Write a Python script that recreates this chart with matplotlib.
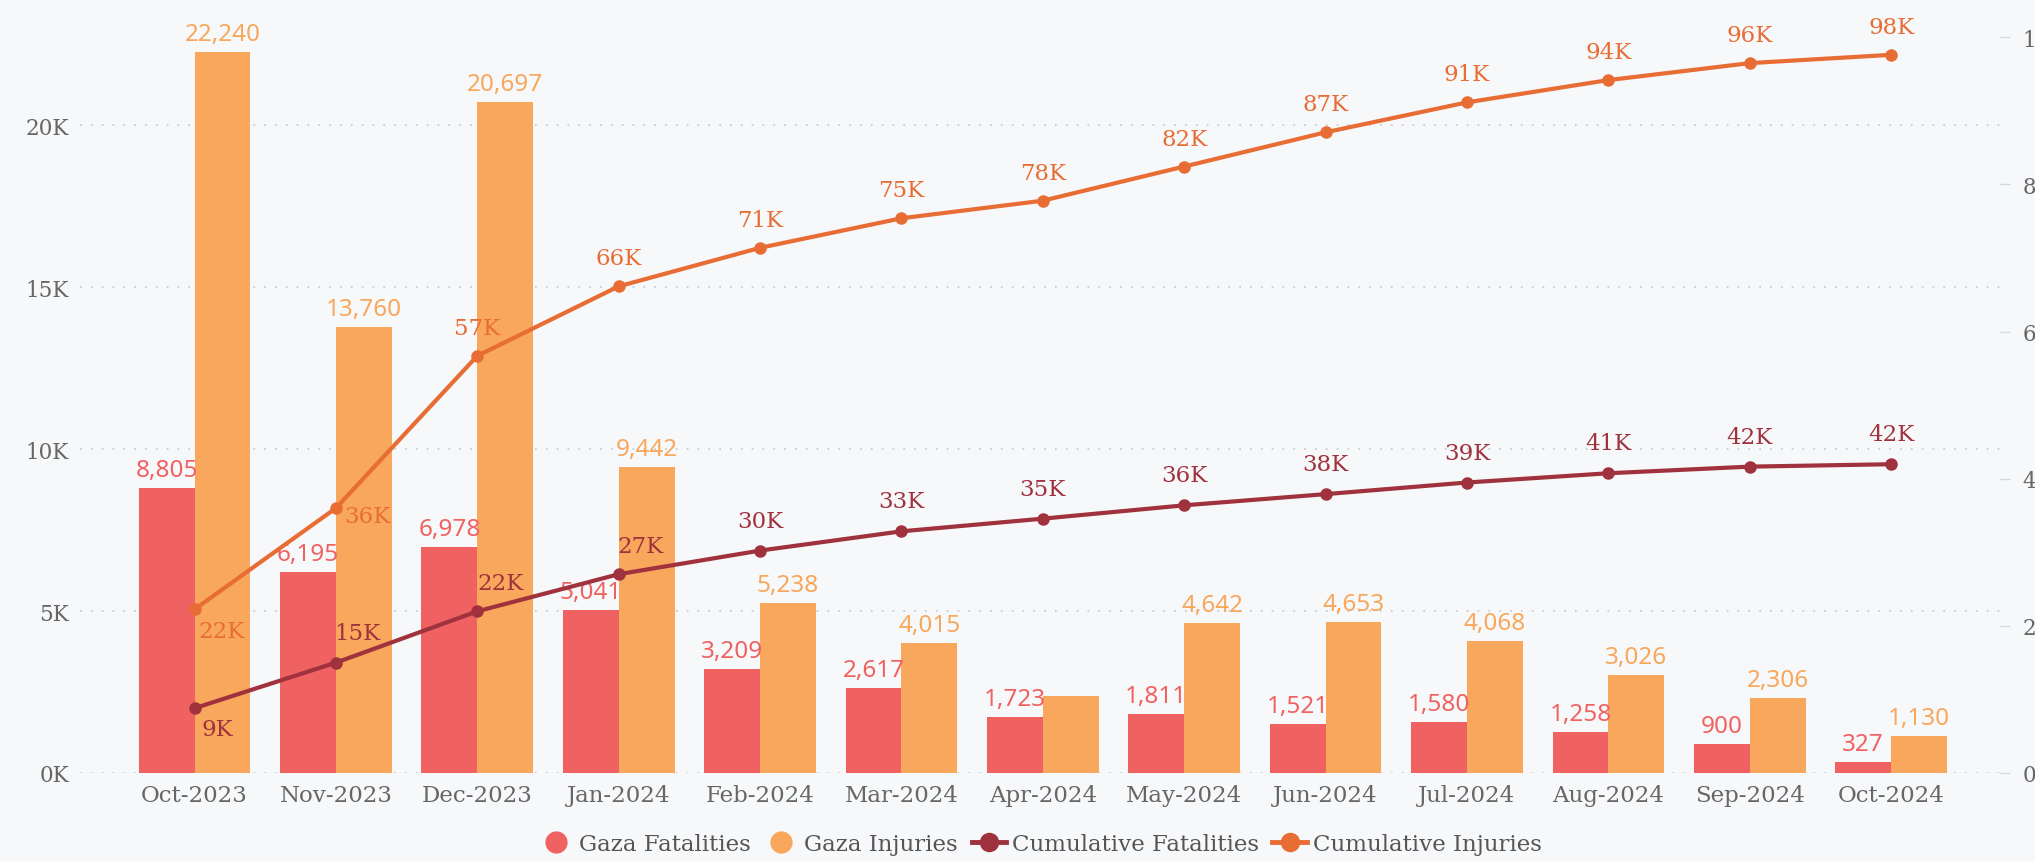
import matplotlib
matplotlib.use("Agg")
from matplotlib import pyplot as plt
from matplotlib.lines import Line2D
from matplotlib.ticker import FuncFormatter
import numpy as np

months = ['Oct-2023', 'Nov-2023', 'Dec-2023', 'Jan-2024', 'Feb-2024', 'Mar-2024', 'Apr-2024',
          'May-2024', 'Jun-2024', 'Jul-2024', 'Aug-2024', 'Sep-2024', 'Oct-2024']
fatalities = [8805, 6195, 6978, 5041, 3209, 2617, 1723, 1811, 1521, 1580, 1258, 900, 327]
injuries = [22240, 13760, 20697, 9442, 5238, 4015, 2390, 4642, 4653, 4068, 3026, 2306, 1130]
injury_labels = ['22,240', '13,760', '20,697', '9,442', '5,238', '4,015', '',
                 '4,642', '4,653', '4,068', '3,026', '2,306', '1,130']
cum_fatalities = [8805, 15000, 21978, 27019, 30228, 32845, 34568, 36379, 37900, 39480, 40738, 41638, 41965]
cum_injuries = [22240, 36000, 56697, 66139, 71377, 75392, 77782, 82424, 87077, 91145, 94171, 96477, 97607]

RED = '#f06262'
ORANGE = '#f8a75c'
DARKRED = '#a0323e'
LINEORANGE = '#e86d35'
BG = '#f7f8fa'
GRAY = '#666666'
SERIF = 'DejaVu Serif'
SANS = 'Noto Sans'

fig = plt.figure(figsize=(20.35, 8.62), dpi=100, facecolor=BG)
ax = fig.add_axes([80 / 2035, 1 - 774 / 862, 1920 / 2035, 738 / 862])
ax.set_facecolor(BG)
ax2 = ax.twinx()

x = np.arange(len(months))
w = 0.395
ax.bar(x - w / 2, fatalities, w, color=RED, zorder=2)
ax.bar(x + w / 2, injuries, w, color=ORANGE, zorder=2)

for i in x:
    ax.annotate(f'{fatalities[i]:,}', (i - w / 2, fatalities[i]), xytext=(0, 6),
                textcoords='offset pixels', ha='center', va='bottom',
                color=RED, fontsize=17.5, family=SANS, annotation_clip=False)
    if injury_labels[i]:
        ax.annotate(injury_labels[i], (i + w / 2, injuries[i]), xytext=(0, 6),
                    textcoords='offset pixels', ha='center', va='bottom',
                    color=ORANGE, fontsize=17.5, family=SANS, annotation_clip=False)

ax.set_xlim(-0.81, 12.77)
ax.set_ylim(0, 22780)
ax.set_yticks([0, 5000, 10000, 15000, 20000])
ax.yaxis.set_major_formatter(FuncFormatter(lambda v, p: f'{int(v / 1000)}K'))
ax.grid(axis='y', color='#c9cdd3', linestyle=(0, (1, 5)), linewidth=1.3, zorder=0)
ax.set_axisbelow(True)
ax.set_xticks(x)
ax.set_xticklabels(months)
ax.tick_params(axis='x', length=0, pad=8, labelsize=16.5, labelcolor=GRAY)
ax.tick_params(axis='y', length=0, pad=8, labelsize=15.5, labelcolor=GRAY)
for lab in ax.get_xticklabels() + ax.get_yticklabels():
    lab.set_family(SERIF)
for s in ax.spines.values():
    s.set_visible(False)

ax2.plot(x, cum_fatalities, color=DARKRED, lw=3, marker='o', ms=8, zorder=3)
ax2.plot(x, cum_injuries, color=LINEORANGE, lw=3, marker='o', ms=8, zorder=3)
ax2.set_ylim(0, 100300)
ax2.set_yticks([0, 20000, 40000, 60000, 80000, 100000])
ax2.yaxis.set_major_formatter(FuncFormatter(lambda v, p: f'{int(v / 1000)}K'))
ax2.tick_params(axis='y', length=7, width=1, color='#d5d8dc', pad=9, labelsize=15.5, labelcolor=GRAY)
for lab in ax2.get_yticklabels():
    lab.set_family(SERIF)
for s in ax2.spines.values():
    s.set_visible(False)

fat_off = [(23, -21), (21, 30), (23, 28), (22, 28)] + [(0, 30)] * 9
inj_off = [(27, -22), (31, -8)] + [(0, 28)] * 11
for i in x:
    ax2.annotate(f'{round(cum_fatalities[i] / 1000)}K', (i, cum_fatalities[i]), xytext=fat_off[i],
                 textcoords='offset pixels', ha='center', va='center',
                 color=DARKRED, fontsize=16.5, family=SERIF, annotation_clip=False)
    ax2.annotate(f'{round(cum_injuries[i] / 1000)}K', (i, cum_injuries[i]), xytext=inj_off[i],
                 textcoords='offset pixels', ha='center', va='center',
                 color=LINEORANGE, fontsize=16.5, family=SERIF, annotation_clip=False)

handles = [
    Line2D([], [], color=RED, marker='o', ms=15, lw=0),
    Line2D([], [], color=ORANGE, marker='o', ms=15, lw=0),
    Line2D([], [], color=DARKRED, marker='o', ms=13, lw=3.5),
    Line2D([], [], color=LINEORANGE, marker='o', ms=13, lw=3.5),
]
leg = ax.legend(handles, ['Gaza Fatalities', 'Gaza Injuries', 'Cumulative Fatalities', 'Cumulative Injuries'],
                loc='center', bbox_to_anchor=(0.5, -0.096), ncol=4, frameon=False,
                prop={'family': SERIF, 'size': 16.5}, handlelength=1.5, handletextpad=0.25,
                columnspacing=0.6)
for t in leg.get_texts():
    t.set_color('#555555')

fig.savefig('out.png', dpi=100, facecolor=BG)
